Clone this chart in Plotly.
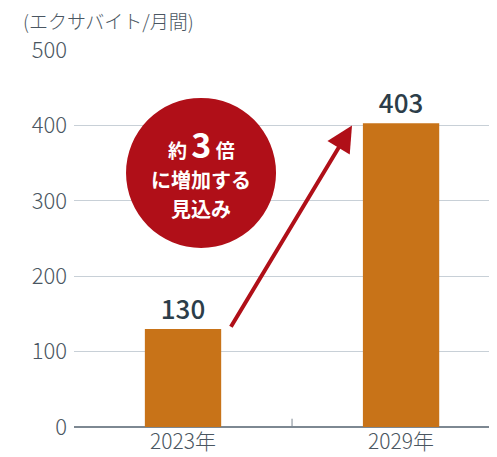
import plotly.graph_objects as go

categories = ["2023年", "2029年"]
values = [130, 403]
value_labels = ["130", "403"]
y_ticks = [0, 100, 200, 300, 400, 500]
unit_label = "(エクサバイト/月間)"

FONT = "Noto Sans CJK JP"
BAR = "#c87318"
RED = "#b00f18"
TXT = "#4a5661"

fig = go.Figure()
fig.add_trace(go.Bar(
    x=[0, 1], y=values, width=0.35, marker=dict(color=BAR, line=dict(width=0)),
    text=value_labels, textposition="outside", cliponaxis=False,
    textfont=dict(family=FONT, size=26, color="#2c3d49", weight=500),
))

fig.update_layout(
    width=489, height=449,
    margin=dict(l=66, r=0, t=42, b=30, autoexpand=False),
    plot_bgcolor="white", paper_bgcolor="white",
    showlegend=False,
    font=dict(family=FONT, color=TXT),
    xaxis=dict(range=[-0.5, 1.44], tickmode="array", tickvals=[0, 1], ticktext=categories,
               showgrid=False, zeroline=False, showline=False, ticks="", automargin=False,
               tickfont=dict(size=21, color=TXT, family=FONT, weight=300)),
    yaxis=dict(range=[0, 500], tickvals=y_ticks, showgrid=True, gridcolor="#c8d0d7", gridwidth=1,
               zeroline=True, zerolinecolor="#7d8892", zerolinewidth=1.5, automargin=False,
               showline=False, ticks="", ticklabelstandoff=6,
               tickfont=dict(size=22, color=TXT, family=FONT, weight=300)),
)

# mid tick mark
fig.add_shape(type="line", xref="x", yref="y", x0=0.5, x1=0.5, y0=0, y1=11,
              line=dict(color="#7d8892", width=1))

# unit label
fig.add_annotation(xref="paper", yref="paper", x=-0.123, y=1.0, yshift=30, xanchor="left", yanchor="middle",
                   text=unit_label, showarrow=False, borderpad=0,
                   font=dict(size=19, color=TXT, family=FONT, weight=300))

# circle
cx, cy = 0.0826, 337
fig.add_shape(type="circle", xref="x", yref="y", xsizemode="pixel", ysizemode="pixel",
              xanchor=cx, yanchor=cy, x0=-75, x1=75, y0=-75, y1=75,
              fillcolor=RED, line=dict(width=0), layer="above")

fig.add_annotation(xref="x", yref="y", x=cx, y=cy, yshift=29, showarrow=False, borderpad=0,
                   text="<b>約 <span style='font-size:34px'>3</span> 倍</b>",
                   font=dict(size=19, color="white", family=FONT))
fig.add_annotation(xref="x", yref="y", x=cx, y=cy, yshift=-7, showarrow=False, borderpad=0,
                   text="<b>に増加する</b>", font=dict(size=20, color="white", family=FONT))
fig.add_annotation(xref="x", yref="y", x=cx, y=cy, yshift=-36, showarrow=False, borderpad=0,
                   text="<b>見込み</b>", font=dict(size=20, color="white", family=FONT))

# arrow
fig.add_annotation(xref="x", yref="y", axref="x", ayref="y",
                   x=0.775, y=400, ax=0.2156, ay=131, text="", showarrow=True,
                   arrowhead=2, arrowsize=1.3, arrowwidth=4, arrowcolor=RED)

fig.write_html("out.html")
